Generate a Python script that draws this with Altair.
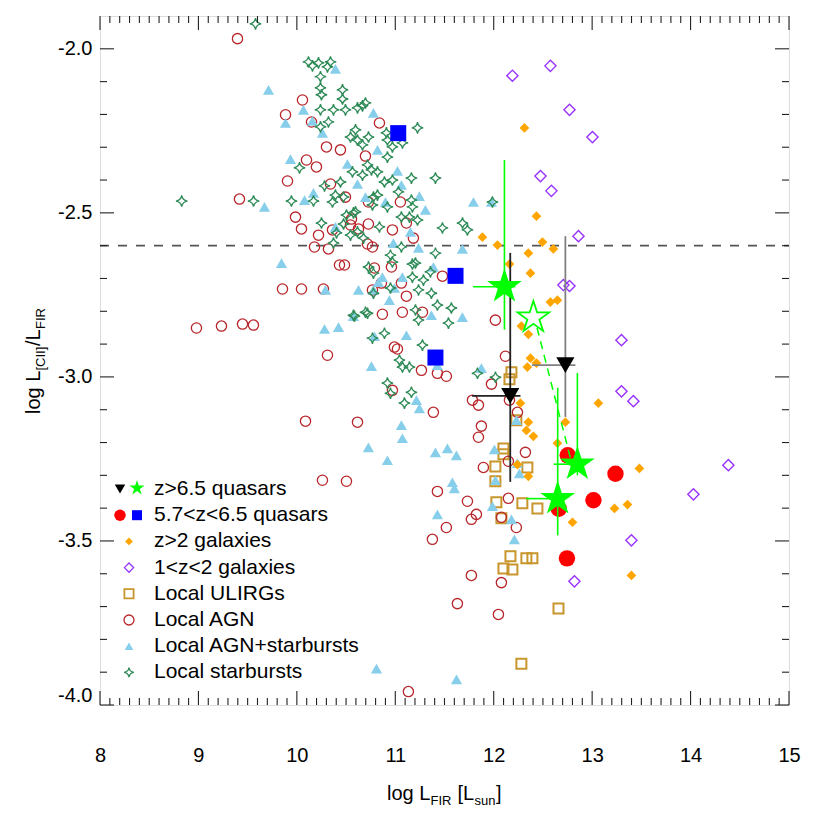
import altair as alt
import pandas as pd

# ---------------- data ----------------
# Local starbursts
sb_x = [9.58, 8.83, 9.56, 9.945, 10.169, 10.027, 10.118, 10.159, 10.22, 10.311, 10.342, 10.24, 10.24, 10.25,
        10.464, 10.464, 10.24, 10.372, 10.494, 10.616, 10.667, 10.697, 10.24, 10.321, 10.596, 10.545, 10.616,
        10.728, 10.667, 10.565, 10.667, 10.718, 10.443, 10.281, 10.392, 10.362, 10.474, 10.768, 10.778, 10.504,
        10.596, 10.25, 10.474, 10.819, 10.545, 10.616, 10.677, 10.372, 10.728, 10.778, 10.778, 10.585, 10.718,
        10.768, 11.226, 10.91, 10.92, 10.971, 11.073, 10.92, 10.89, 10.971, 11.164, 11.408, 11.032, 10.819,
        10.92, 11.164, 11.174, 11.144, 11.062, 11.226, 10.839, 11.479, 11.683, 11.733, 11.987, 11.062, 11.408,
        10.951, 10.971, 11.174, 11.357, 11.174, 11.286, 10.951, 11.236, 11.367, 11.428, 11.57, 11.205, 11.236,
        11.54, 10.89, 11.276, 11.042, 11.073, 11.144, 11.835, 12.018, 10.92, 10.951, 11.164, 11.093, 11.205,
        10.697, 10.575, 10.758, 10.403, 10.575]
sb_y = [-1.924, -2.464, -2.464, -2.464, -2.464, -2.363, -2.040, -2.052, -2.043, -2.055, -2.040, -2.085, -2.119,
        -2.140, -2.125, -2.153, -2.186, -2.186, -2.186, -2.180, -2.174, -2.165, -2.238, -2.223, -2.247, -2.269,
        -2.278, -2.269, -2.293, -2.375, -2.385, -2.354, -2.406, -2.418, -2.446, -2.467, -2.452, -2.476, -2.452,
        -2.507, -2.497, -2.531, -2.534, -2.375, -2.568, -2.558, -2.577, -2.592, -2.665, -2.684, -2.745, -2.815,
        -2.806, -2.882, -2.241, -2.256, -2.278, -2.299, -2.287, -2.330, -2.406, -2.400, -2.394, -2.394, -2.436,
        -2.446, -2.482, -2.461, -2.482, -2.513, -2.513, -2.522, -2.543, -2.546, -2.531, -2.552, -2.467, -2.604,
        -2.623, -2.629, -2.650, -2.656, -2.680, -2.696, -2.705, -2.729, -2.735, -2.745, -2.781, -2.790, -2.796,
        -2.827, -2.836, -2.867, -2.903, -2.949, -2.970, -2.970, -2.989, -3.001, -3.019, -3.050, -3.047, -3.080,
        -2.653, -2.803, -2.812, -2.369, -2.561, -2.500]

# Local AGN
agn_x = [9.397, 10.057, 9.885, 10.149, 10.301, 10.443, 10.098, 10.199, 9.905, 10.342, 10.494, 9.417, 9.986,
         10.047, 10.22, 10.362, 10.555, 10.545, 10.626, 10.727, 10.179, 10.321, 10.717, 10.768, 10.433, 10.484,
         10.788, 9.854, 10.047, 10.27, 10.768, 9.559, 8.98, 9.234, 9.448, 10.311, 10.088, 10.616, 10.26, 10.504,
         10.697, 10.727, 10.839, 11.052, 11.113, 10.971, 11.184, 10.961, 10.859, 11.062, 11.113, 10.869, 11.072,
         11.276, 11.479, 10.991, 11.022, 11.266, 11.428, 11.519, 10.971, 11.387, 11.784, 11.845, 11.977, 12.017,
         12.119, 12.16, 12.241, 11.875, 11.845, 12.322, 12.149, 11.895, 11.428, 11.733, 11.824, 11.773, 11.519,
         11.377, 12.149, 12.078, 12.23, 11.773, 12.078, 11.631, 12.048, 11.133]
agn_y = [-1.969, -2.156, -2.201, -2.223, -2.299, -2.308, -2.339, -2.360, -2.403, -2.412, -2.452, -2.458, -2.513,
         -2.549, -2.568, -2.552, -2.519, -2.537, -2.549, -2.534, -2.604, -2.610, -2.595, -2.604, -2.659, -2.659,
         -2.668, -2.732, -2.732, -2.732, -2.735, -2.842, -2.851, -2.845, -2.839, -2.934, -3.135, -3.138, -3.315,
         -3.318, -2.327, -2.467, -2.226, -2.467, -2.531, -2.552, -2.577, -2.665, -2.714, -2.714, -2.754, -2.809,
         -2.803, -2.803, -2.693, -2.909, -2.915, -2.980, -2.989, -2.998, -3.041, -3.108, -3.071, -3.086, -3.022,
         -2.827, -2.937, -3.071, -3.108, -3.150, -3.184, -3.230, -3.257, -3.276, -3.349, -3.379, -3.419, -3.434,
         -3.459, -3.495, -3.370, -3.428, -3.459, -3.605, -3.627, -3.691, -3.724, -3.959]

# Local AGN + starbursts
agnsb_x = [10.392, 9.712, 10.067, 9.885, 10.159, 10.26, 9.935, 10.514, 10.616, 10.169, 10.078, 9.671, 10.392,
           10.778, 10.819, 10.697, 9.844, 10.291, 10.626, 10.778, 10.281, 10.423, 10.575, 10.788, 10.758, 10.829,
           11.022, 11.062, 11.245, 11.306, 10.9, 11.154, 10.981, 11.236, 11.682, 11.794, 11.977, 11.387, 10.869,
           11.072, 10.991, 10.94, 11.367, 11.682, 11.113, 11.428, 11.875, 11.215, 11.245, 11.062, 11.072, 10.92,
           10.727, 11.408, 11.53, 11.621, 12.007, 12.23, 12.24, 11.58, 11.6, 12.017, 12.261, 11.428, 11.987,
           12.18, 12.21, 10.809, 11.622]
agnsb_y = [-2.061, -2.125, -2.186, -2.226, -2.220, -2.256, -2.336, -2.351, -2.412, -2.439, -2.461, -2.482,
           -2.543, -2.195, -2.308, -2.452, -2.653, -2.735, -2.735, -2.735, -2.854, -2.848, -2.815, -2.876, -2.967,
           -2.711, -2.372, -2.415, -2.449, -2.491, -2.467, -2.558, -2.592, -2.607, -2.610, -2.467, -2.467, -2.665,
           -2.696, -2.696, -2.729, -2.766, -2.812, -2.818, -2.873, -2.964, -2.973, -3.071, -3.096, -3.147, -3.187,
           -3.254, -3.215, -3.230, -3.218, -3.239, -3.221, -3.132, -3.263, -3.321, -3.340, -3.315, -3.294, -3.419,
           -3.394, -3.434, -3.495, -3.889, -3.922]

# Local ULIRGs
ulirg_x = [12.18, 12.16, 12.23, 12.099, 12.099, 12.017, 12.342, 12.017, 12.027, 12.291, 12.444, 12.078, 12.17,
           12.332, 12.393, 12.099, 12.19, 12.658, 12.281]
ulirg_y = [-2.986, -3.007, -3.132, -3.218, -3.236, -3.273, -3.276, -3.318, -3.382, -3.385, -3.401, -3.431,
           -3.547, -3.553, -3.553, -3.584, -3.587, -3.706, -3.874]

# z>2 galaxies
hz_x = [12.312, 12.434, 11.885, 12.038, 12.495, 12.606, 12.352, 12.16, 12.373, 12.576, 12.647, 12.281, 12.352,
        12.373, 12.434, 12.342, 12.271, 12.352, 12.332, 12.403, 12.647, 12.728, 13.063, 12.241, 12.352, 12.80,
        13.48, 13.227, 13.359, 13.399]
hz_y = [-2.241, -2.510, -2.574, -2.598, -2.589, -2.610, -2.623, -2.656, -2.684, -2.772, -2.766, -2.845, -2.870,
        -2.943, -2.958, -2.970, -3.080, -3.138, -3.163, -3.181, -3.202, -3.138, -3.080, -3.267, -3.303, -3.443,
        -3.279, -3.401, -3.389, -3.605]

# 1<z<2 galaxies
mz_x = [12.19, 12.576, 12.77, 13.003, 12.475, 12.586, 12.861, 12.708, 12.77, 13.298, 13.298, 13.419, 14.384,
        14.029, 13.399, 12.82]
mz_y = [-2.082, -2.052, -2.186, -2.269, -2.388, -2.433, -2.571, -2.720, -2.723, -2.888, -3.044, -3.074, -3.269,
        -3.358, -3.498, -3.623]

# 5.7<z<6.5 quasars
qred_x = [12.752, 13.237, 13.013, 12.661, 12.744]
qred_y = [-3.239, -3.295, -3.376, -3.402, -3.553]
qblue_x = [11.03, 11.612, 11.408]
qblue_y = [-2.257, -2.692, -2.941]

# z>6.5 quasars: detections (green stars) with error bars
qstar_x = [12.109, 12.85, 12.65]
qstar_y = [-2.725, -3.266, -3.371]
qstar_ylo = [-2.856, -3.30, -3.483]
qstar_yhi = [-2.339, -2.988, -3.033]
qstar_xlo = [11.79, 12.61, 12.33]
qstar_xhi = [12.22, 12.85, 12.65]
qopen_x = [12.403]
qopen_y = [-2.819]
# dashed link from the open star
qdash_x = [12.44, 12.79]
qdash_y = [-2.85, -3.26]
# z>6.5 upper limits (black triangles)
qlim_x = [12.168, 12.728]
qlim_y = [-3.058, -2.964]
qlim_ylo = [-3.32, -3.122]
qlim_yhi = [-2.622, -2.571]
qlim_xlo = [11.78, 12.39]
qlim_xhi = [12.272, 12.83]
qlim_barcolor = ["#222222", "#808080"]

threshold_y = [-2.6]

x_major = [8, 9, 10, 11, 12, 13, 14, 15]
y_major = [-4.0, -3.5, -3.0, -2.5, -2.0]

legend_rows = [
    "z>6.5 quasars", "5.7<z<6.5 quasars", "z>2 galaxies", "1<z<2 galaxies",
    "Local ULIRGs", "Local AGN", "Local AGN+starbursts", "Local starbursts",
]

# ---------------- chart ----------------
W, H = 689, 689
FONT = "Liberation Sans"
XS = alt.Scale(domain=[8, 15], nice=False, zero=False)
YS = alt.Scale(domain=[-4.0, -1.9], nice=False, zero=False)

AX_X = alt.Axis(values=x_major, format="d", ticks=False, tickSize=0, domain=False, grid=False,
                labelFont=FONT, labelFontSize=20, labelColor="black", labelPadding=40,
                labelFlush=False, labelOverlap=False, title=None)
AX_Y = alt.Axis(values=y_major, labelExpr="(datum.value < 0 ? '-' : '') + format(abs(datum.value), '.1f')",
                ticks=False, tickSize=0, domain=False, grid=False, labelFont=FONT, labelFontSize=20,
                labelColor="black", labelPadding=8, labelFlush=True, labelOverlap=False, title=None)


def X(field="x"):
    return alt.X(f"{field}:Q", scale=XS, axis=AX_X)


def Y(field="y"):
    return alt.Y(f"{field}:Q", scale=YS, axis=AX_Y)


def xy(xv, yv):
    return pd.DataFrame({"x": xv, "y": yv})


STAR4 = "M0,-1 Q0.13,-0.13 1,0 Q0.13,0.13 0,1 Q-0.13,0.13 -1,0 Q-0.13,-0.13 0,-1 Z"
STAR5 = ("M0,-1 L0.2245,-0.309 L0.951,-0.309 L0.3633,0.118 L0.588,0.809 L0,0.382 "
         "L-0.588,0.809 L-0.3633,0.118 L-0.951,-0.309 L-0.2245,-0.309 Z")

C_SB = "#2e8b57"
C_AGN = "#b8262b"
C_AGNSB = "#87ceeb"
C_ULIRG = "#c8962d"
C_HZ = "#ffa500"
C_MZ = "#9933ff"


def open_pts(xv, yv, shape, size, color, sw):
    return alt.Chart(xy(xv, yv)).mark_point(shape=shape, size=size, filled=False, color=color,
                                            strokeWidth=sw, opacity=1).encode(x=X(), y=Y())


def fill_pts(xv, yv, shape, size, color):
    return alt.Chart(xy(xv, yv)).mark_point(shape=shape, size=size, filled=True, color=color,
                                            strokeWidth=0, opacity=1).encode(x=X(), y=Y())


layers = []

# threshold dashed line
layers.append(alt.Chart(pd.DataFrame({"y": threshold_y})).mark_rule(
    color="#555555", strokeWidth=1.6, strokeDash=[9, 9]).encode(
    y=Y(), x=alt.value(0), x2=alt.value(W)))

layers.append(open_pts(ulirg_x, ulirg_y, "square", 100, C_ULIRG, 2.0))
layers.append(open_pts(agn_x, agn_y, "circle", 105, C_AGN, 1.3))
layers.append(fill_pts(agnsb_x, agnsb_y, "triangle-up", 125, C_AGNSB))
layers.append(open_pts(sb_x, sb_y, STAR4, 130, C_SB, 1.3))
layers.append(fill_pts(hz_x, hz_y, "diamond", 95, C_HZ))
layers.append(open_pts(mz_x, mz_y, "diamond", 125, C_MZ, 1.4))
layers.append(fill_pts(qblue_x, qblue_y, "square", 256, "#0000ff"))
layers.append(fill_pts(qred_x, qred_y, "circle", 270, "#ff0000"))

# upper limits with error bars
lim_df = pd.DataFrame({"x": qlim_x, "y": qlim_y, "ylo": qlim_ylo, "yhi": qlim_yhi,
                       "xlo": qlim_xlo, "xhi": qlim_xhi, "c": qlim_barcolor})
layers.append(alt.Chart(lim_df).mark_rule(strokeWidth=1.8).encode(
    x=X(), y=Y("ylo"), y2="yhi:Q", color=alt.Color("c:N", scale=None)))
layers.append(alt.Chart(lim_df).mark_rule(strokeWidth=1.8).encode(
    y=Y(), x=X("xlo"), x2="xhi:Q", color=alt.Color("c:N", scale=None)))
layers.append(fill_pts(qlim_x, qlim_y, "triangle-down", 330, "#000000"))

# z>6.5 detections
st_df = pd.DataFrame({"x": qstar_x, "y": qstar_y, "ylo": qstar_ylo, "yhi": qstar_yhi,
                      "xlo": qstar_xlo, "xhi": qstar_xhi})
layers.append(alt.Chart(st_df).mark_rule(color="#00ff00", strokeWidth=1.6).encode(
    x=X(), y=Y("ylo"), y2="yhi:Q"))
layers.append(alt.Chart(st_df).mark_rule(color="#00ff00", strokeWidth=1.6).encode(
    y=Y(), x=X("xlo"), x2="xhi:Q"))
layers.append(alt.Chart(xy(qdash_x, qdash_y)).mark_line(
    color="#00ff00", strokeWidth=1.5, strokeDash=[8, 6]).encode(x=X(), y=Y()))
layers.append(fill_pts(qstar_x, qstar_y, STAR5, 1350, "#00ff00"))
layers.append(open_pts(qopen_x, qopen_y, STAR5, 1100, "#00ff00", 1.8))

# inward ticks on all four sides
x_minor = [round(8 + 0.1 * i, 1) for i in range(71) if i % 10]
y_minor = [round(-4.0 + 0.1 * i, 1) for i in range(21) if i % 5]
TICK_C = "#222222"
for vals, ln in ((x_major, 14), (x_minor, 7)):
    d = pd.DataFrame({"x": vals})
    layers.append(alt.Chart(d).mark_rule(color=TICK_C, strokeWidth=1.1).encode(
        x=X(), y=alt.value(H), y2=alt.value(H - ln)))
    layers.append(alt.Chart(d).mark_rule(color=TICK_C, strokeWidth=1.1).encode(
        x=X(), y=alt.value(0), y2=alt.value(ln)))
for vals, ln in ((y_major, 14), (y_minor, 7)):
    d = pd.DataFrame({"y": vals})
    layers.append(alt.Chart(d).mark_rule(color=TICK_C, strokeWidth=1.1).encode(
        y=Y(), x=alt.value(0), x2=alt.value(ln)))
    layers.append(alt.Chart(d).mark_rule(color=TICK_C, strokeWidth=1.1).encode(
        y=Y(), x=alt.value(W), x2=alt.value(W - ln)))

ONE = pd.DataFrame({"k": [0]})


def sym(px, py, shape, size, color, filled, sw=1.3):
    if filled:
        m = alt.Chart(ONE).mark_point(shape=shape, size=size, filled=True, color=color, strokeWidth=0, opacity=1)
    else:
        m = alt.Chart(ONE).mark_point(shape=shape, size=size, filled=False, color=color, strokeWidth=sw, opacity=1)
    return m.encode(x=alt.value(px), y=alt.value(py))


def txt(px, py, s, size=20, align="left", baseline="alphabetic", angle=0):
    kw = dict(text=s, font=FONT, fontSize=size, color="black", align=align, baseline=baseline)
    if angle:
        kw["angle"] = angle
    return alt.Chart(ONE).mark_text(**kw).encode(x=alt.value(px), y=alt.value(py))


# legend
row0, dy = 473, 26.2
rows_y = [row0 + i * dy for i in range(8)]
layers.append(sym(20, rows_y[0], "triangle-down", 110, "#000000", True))
layers.append(sym(37, rows_y[0] - 1, STAR5, 250, "#00ff00", True))
layers.append(sym(20, rows_y[1], "circle", 130, "#ff0000", True))
layers.append(sym(37, rows_y[1], "square", 100, "#0000ff", True))
layers.append(sym(29, rows_y[2], "diamond", 60, C_HZ, True))
layers.append(sym(29, rows_y[3], "diamond", 85, C_MZ, False, 1.3))
layers.append(sym(29, rows_y[4], "square", 85, C_ULIRG, False, 1.8))
layers.append(sym(29, rows_y[5], "circle", 100, C_AGN, False, 1.3))
layers.append(sym(29, rows_y[6], "triangle-up", 75, C_AGNSB, True))
layers.append(sym(29, rows_y[7], STAR4, 95, C_SB, False, 1.3))
for s, ry in zip(legend_rows, rows_y):
    layers.append(txt(54, ry, s, size=21, baseline="middle"))

# x title: log L_FIR [L_sun]
tx0, ty = 287, 784
layers.append(txt(tx0, ty, "log L", 20))
layers.append(txt(tx0 + 43.5, ty + 5, "FIR", 13))
layers.append(txt(tx0 + 70.5, ty, "[L", 20))
layers.append(txt(tx0 + 87.5, ty + 5, "sun", 13))
layers.append(txt(tx0 + 109.0, ty, "]", 20))

# y title: log L_[CII]/L_FIR (rotated)
yx, yy0 = -60, 398
layers.append(txt(yx, yy0, "log L", 20, angle=270))
layers.append(txt(yx + 5, yy0 - 43.5, "[CII]", 13, angle=270))
layers.append(txt(yx, yy0 - 68.0, "/L", 20, angle=270))
layers.append(txt(yx + 5, yy0 - 85.0, "FIR", 13, angle=270))

chart = alt.layer(*layers).properties(
    width=W, height=H,
    autosize=alt.AutoSizeParams(type="none"),
    padding={"left": 92, "top": 8, "right": 30, "bottom": 112},
).configure_view(stroke="#111111", strokeWidth=1.3).configure(background="white")

chart.save("out.html", embed_options={"renderer": "svg", "actions": False})
